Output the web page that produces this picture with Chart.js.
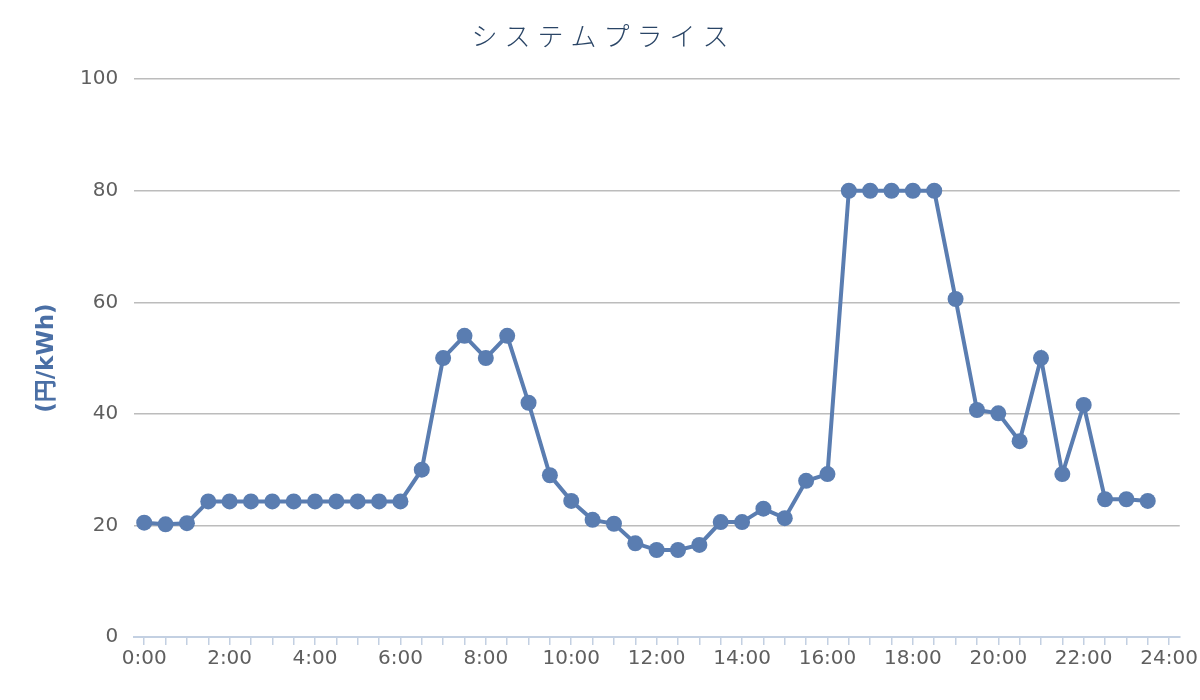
<!DOCTYPE html>
<html>
<head>
<meta charset="utf-8">
<script src="https://cdn.jsdelivr.net/npm/chart.js@4.4.1/dist/chart.umd.min.js"></script>
<style>
  html, body { margin: 0; padding: 0; background: #ffffff; }
  #wrap { width: 1200px; height: 700px; }
</style>
</head>
<body>
<div id="wrap"><canvas id="c" width="1200" height="700"></canvas></div>
<script>
// ---- data ----
const chartTitle = 'システムプライス';
const yAxisTitle = '(円/kWh)';
const times = ['0:00','0:30','1:00','1:30','2:00','2:30','3:00','3:30','4:00','4:30','5:00','5:30',
               '6:00','6:30','7:00','7:30','8:00','8:30','9:00','9:30','10:00','10:30','11:00','11:30',
               '12:00','12:30','13:00','13:30','14:00','14:30','15:00','15:30','16:00','16:30','17:00','17:30',
               '18:00','18:30','19:00','19:30','20:00','20:30','21:00','21:30','22:00','22:30','23:00','23:30'];
const prices = [20.5, 20.2, 20.4, 24.3, 24.3, 24.3, 24.3, 24.3, 24.3, 24.3, 24.3, 24.3,
                24.3, 30.0, 50.0, 54.0, 50.0, 54.0, 42.0, 29.0, 24.4, 21.0, 20.3, 16.8,
                15.6, 15.6, 16.5, 20.6, 20.6, 23.0, 21.3, 28.0, 29.2, 80.0, 80.0, 80.0,
                80.0, 80.0, 60.6, 40.7, 40.1, 35.1, 50.0, 29.2, 41.6, 24.7, 24.7, 24.4];
const xTickLabels = ['0:00','2:00','4:00','6:00','8:00','10:00','12:00','14:00','16:00','18:00','20:00','22:00','24:00'];
const yTicks = [0, 20, 40, 60, 80, 100];

const lineColor = '#5a7db1';

const titleSpacingPlugin = {
  id: 'titleSpacing',
  afterDraw(chart) {
    const tb = chart.titleBlock;
    if (!tb) return;
    const ctx = chart.ctx;
    ctx.save();
    ctx.font = '300 26px "Noto Sans CJK JP", "Noto Sans", sans-serif';
    ctx.fillStyle = '#2a4566';
    ctx.textBaseline = 'middle';
    ctx.textAlign = 'left';
    const spacing = 7;
    ctx.letterSpacing = spacing + 'px';
    const w = ctx.measureText(chartTitle).width - spacing;
    const cx = chart.width / 2;
    const cy = tb.top + tb.options.padding.top + 15.6;
    ctx.fillText(chartTitle, cx - w / 2, cy);
    ctx.restore();
  }
};

const fullTicks = Array.from({length: times.length + 1}, (_, i) => i);

new Chart(document.getElementById('c'), {
  type: 'line',
  data: {
    datasets: [{
      label: chartTitle,
      data: prices.map((v, i) => ({x: i, y: v})),
      borderColor: lineColor,
      backgroundColor: lineColor,
      borderWidth: 4,
      pointRadius: 8,
      pointHoverRadius: 8,
      pointBorderWidth: 0,
      pointBackgroundColor: lineColor,
      tension: 0,
      fill: false
    }]
  },
  options: {
    responsive: false,
    animation: false,
    devicePixelRatio: 1,
    layout: { padding: { left: 30, right: 0, top: 0, bottom: 27 } },
    plugins: {
      legend: { display: false },
      tooltip: { enabled: false },
      title: {
        display: true,
        text: chartTitle,
        color: 'rgba(0,0,0,0)',
        font: { size: 26, weight: '300', family: '"Noto Sans CJK JP", sans-serif', lineHeight: 1.2 },
        padding: { top: 21, bottom: 27 }
      }
    },
    scales: {
      x: {
        type: 'linear',
        min: -0.47,
        max: 48.5,
        afterBuildTicks(scale) { scale.ticks = fullTicks.map(v => ({value: v})); },
        ticks: {
          autoSkip: false,
          maxRotation: 0,
          minRotation: 0,
          padding: 2,
          color: '#5f5f5f',
          font: { family: '"DejaVu Sans", sans-serif', size: 20 },
          callback(value) { return value % 4 === 0 ? xTickLabels[value / 4] : ''; }
        },
        grid: {
          display: true,
          drawOnChartArea: false,
          drawTicks: true,
          tickLength: 8,
          color: '#c3d0e2',
          lineWidth: 1.5
        },
        border: { display: true, color: '#c3d0e2', width: 2 }
      },
      y: {
        min: 0,
        max: 100,
        afterBuildTicks(scale) { scale.ticks = yTicks.map(v => ({value: v})); },
        ticks: {
          padding: 16,
          color: '#5f5f5f',
          font: { family: '"DejaVu Sans", sans-serif', size: 20 }
        },
        grid: {
          drawTicks: false,
          color: (ctx) => ctx.tick && ctx.tick.value === 0 ? 'rgba(0,0,0,0)' : '#bcbcbc',
          lineWidth: 1.5
        },
        border: { display: false },
        title: {
          display: true,
          text: yAxisTitle,
          color: '#4a6fa5',
          font: { family: '"DejaVu Sans", "Noto Sans CJK JP", sans-serif', size: 23, weight: 'bold', lineHeight: 1.2 },
          padding: { top: 3, bottom: 3.4 }
        }
      }
    }
  },
  plugins: [titleSpacingPlugin]
});
</script>
</body>
</html>
